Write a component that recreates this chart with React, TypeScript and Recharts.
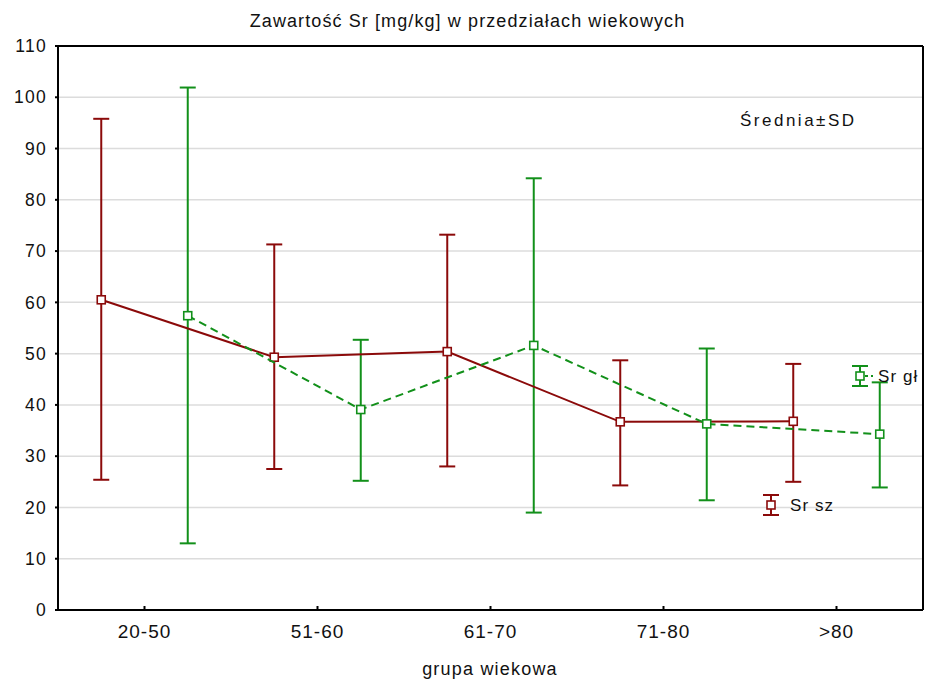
import React from 'react';
import { ComposedChart, Scatter, XAxis, YAxis, CartesianGrid, ErrorBar } from 'recharts';

const groups = ['20-50', '51-60', '61-70', '71-80', '>80'];
const srSzMean = [60.5, 49.3, 50.4, 36.7, 36.8];
const srSzLow = [25.4, 27.5, 28.0, 24.3, 25.0];
const srSzHigh = [95.8, 71.3, 73.2, 48.7, 48.0];
const srGlMean = [57.4, 39.1, 51.6, 36.3, 34.3];
const srGlLow = [13.0, 25.2, 19.0, 21.4, 23.9];
const srGlHigh = [101.9, 52.7, 84.2, 51.0, 44.4];
const yTicks = [0, 10, 20, 30, 40, 50, 60, 70, 80, 90, 100, 110];
const xTicks = groups.map((_, i) => i + 0.5);

const RED = '#8b0a0a';
const GREEN = '#12901a';
const FONT = '"Liberation Sans", Arial, sans-serif';
const INK = '#111';

const build = (mean: number[], low: number[], high: number[], shift: number) =>
	mean.map((m, i) => ({ x: i + 0.5 + shift, y: m, err: [m - low[i], high[i] - m] }));

// groups are offset a quarter category left (Sr sz) and right (Sr gł)
const szData = build(srSzMean, srSzLow, srSzHigh, -0.25);
const glData = build(srGlMean, srGlLow, srGlHigh, 0.25);

const square = (color: string) => (props: any) => {
	const { cx, cy } = props;
	if (cx == null || cy == null) return <g />;
	return <rect x={cx - 4} y={cy - 4} width={8} height={8} fill="#fff" stroke={color} strokeWidth={1.6} />;
};

const txt = { fontFamily: FONT, fontSize: 17, letterSpacing: 1.1, color: INK, lineHeight: 1 } as const;

// legend glyph: error bar + square marker (+ dash for the dashed series)
const LegendItem = ({ color, label, dashed, left, top }: any) => (
	<div style={{ position: 'absolute', left, top, display: 'flex', alignItems: 'center', ...txt }}>
		<svg width={dashed ? 24 : 18} height={22}>
			<line x1={9} y1={1} x2={9} y2={21} stroke={color} strokeWidth={2} />
			<line x1={1} y1={1} x2={17} y2={1} stroke={color} strokeWidth={2} />
			<line x1={1} y1={21} x2={17} y2={21} stroke={color} strokeWidth={2} />
			{dashed && <line x1={14} y1={11} x2={22} y2={11} stroke={color} strokeWidth={2} strokeDasharray="3 3" />}
			<rect x={5} y={7} width={8} height={8} fill="#fff" stroke={color} strokeWidth={1.6} />
		</svg>
		<span style={{ marginLeft: dashed ? 3 : 10 }}>{label}</span>
	</div>
);

export default function App() {
	return (
		<div style={{ position: 'absolute', left: 0, top: 0, width: 925, height: 687, background: '#fff', fontFamily: FONT }}>
			<div style={{ position: 'absolute', left: 0, width: 935, top: 12, textAlign: 'center', ...txt, fontSize: 18, letterSpacing: 1.1 }}>
				Zawartość Sr [mg/kg] w przedziałach wiekowych
			</div>
			<ComposedChart width={925} height={687} margin={{ top: 0, right: 0, left: 0, bottom: 0 }}>
				<CartesianGrid vertical={false} stroke="#dcdcdc" strokeWidth={1.5} />
				<XAxis
					dataKey="x"
					type="number"
					domain={[0, 5]}
					ticks={xTicks}
					interval={0}
					allowDataOverflow
					tickFormatter={(v: number) => groups[Math.round(v - 0.5)]}
					height={77}
					stroke="#000"
					strokeWidth={2}
					tickSize={-4}
					tickMargin={19}
					tick={{ fill: INK, fontSize: 19, fontFamily: FONT, letterSpacing: 1 }}
				/>
				<XAxis
					xAxisId="top"
					orientation="top"
					type="number"
					domain={[0, 5]}
					ticks={xTicks}
					interval={0}
					allowDataOverflow
					height={46}
					stroke="#000"
					strokeWidth={2}
					tickSize={-4}
					tick={false}
				/>
				<YAxis
					dataKey="y"
					type="number"
					domain={[0, 110]}
					ticks={yTicks}
					interval={0}
					allowDataOverflow
					width={58}
					stroke="#000"
					strokeWidth={2}
					tickSize={3}
					tickMargin={8}
					tick={{ fill: INK, fontSize: 17.5, fontFamily: FONT, letterSpacing: 1.3 }}
				/>
				<YAxis
					yAxisId="right"
					orientation="right"
					type="number"
					domain={[0, 110]}
					ticks={yTicks}
					interval={0}
					allowDataOverflow
					width={2}
					stroke="#000"
					strokeWidth={2}
					tickSize={-5}
					tick={false}
				/>
				<Scatter
					name="Sr sz"
					data={szData}
					dataKey="y"
					fill={RED}
					line={{ stroke: RED, strokeWidth: 2 }}
					shape={square(RED)}
					isAnimationActive={false}
				>
					<ErrorBar dataKey="err" direction="y" width={8} stroke={RED} strokeWidth={2} isAnimationActive={false} />
				</Scatter>
				<Scatter
					name="Sr gł"
					data={glData}
					dataKey="y"
					fill={GREEN}
					line={{ stroke: GREEN, strokeWidth: 2, strokeDasharray: '8 5' }}
					shape={square(GREEN)}
					isAnimationActive={false}
				>
					<ErrorBar dataKey="err" direction="y" width={8} stroke={GREEN} strokeWidth={2} isAnimationActive={false} />
				</Scatter>
			</ComposedChart>
			<div style={{ position: 'absolute', left: 740, top: 112, ...txt, letterSpacing: 2.5 }}>Średnia±SD</div>
			<LegendItem color={RED} label="Sr sz" left={762} top={494} />
			<LegendItem color={GREEN} label="Sr gł" dashed left={851} top={365} />
			<div style={{ position: 'absolute', left: 0, width: 980, top: 660, textAlign: 'center', ...txt, fontSize: 18, letterSpacing: 1.2 }}>
				grupa wiekowa
			</div>
		</div>
	);
}
